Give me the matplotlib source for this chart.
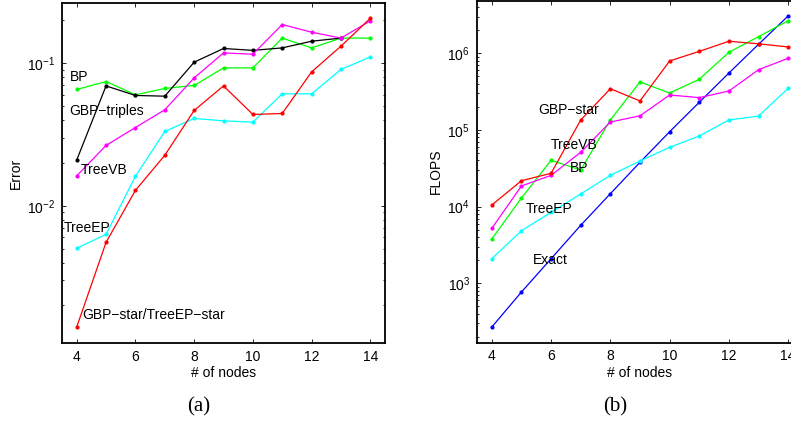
import matplotlib
matplotlib.use("Agg")
import matplotlib.pyplot as plt
from matplotlib.ticker import LogLocator, NullFormatter

plt.rcParams['font.family'] = ['Liberation Sans', 'DejaVu Sans']
plt.rcParams['mathtext.fontset'] = 'custom'
plt.rcParams['mathtext.rm'] = 'Liberation Sans'
plt.rcParams['mathtext.it'] = 'Liberation Sans'

nodes = [4, 5, 6, 7, 8, 9, 10, 11, 12, 13, 14]
nodes_triples = [4, 5, 6, 7, 8, 9, 10, 11, 12, 13]

# (a) Error
err_bp = [0.0654, 0.0744, 0.060, 0.0665, 0.0698, 0.0927, 0.0927, 0.150, 0.128, 0.150, 0.150]
err_gbp_triples = [0.0209, 0.0693, 0.0594, 0.0587, 0.1016, 0.1268, 0.123, 0.128, 0.1426, 0.150]
err_treevb = [0.0162, 0.0265, 0.0354, 0.0471, 0.0789, 0.118, 0.1156, 0.1867, 0.165, 0.150, 0.198]
err_treeep = [0.00503, 0.00631, 0.0161, 0.0332, 0.0410, 0.0394, 0.0386, 0.0610, 0.0610, 0.0904, 0.1107]
err_gbp_star = [0.00141, 0.00554, 0.01282, 0.0226, 0.0466, 0.0693, 0.0437, 0.0444, 0.0869, 0.1316, 0.2066]

# (b) FLOPS
fl_exact = [269, 770, 2094, 5710, 14750, 37850, 94900, 229600, 553000, 1.31e6, 3.07e6]
fl_treeep = [2094, 4850, 8440, 14620, 25600, 39400, 59400, 83400, 135000, 152000, 349000]
fl_bp = [3790, 12970, 40200, 30060, 135000, 423000, 303000, 458000, 1.03e6, 1.65e6, 2.66e6]
fl_treevb = [5210, 18600, 25600, 51200, 127000, 153000, 286000, 264000, 322000, 611000, 861000]
fl_gbp_star = [10500, 21800, 27200, 135000, 345000, 239000, 794000, 1.06e6, 1.435e6, 1.33e6, 1.21e6]

xticks = [4, 6, 8, 10, 12, 14]

W, H = 791, 423
fig = plt.figure(figsize=(W / 100, H / 100), dpi=100)

ax1 = fig.add_axes([62 / W, 1 - 342.7 / H, (385 - 62) / W, (342.7 - 3.3) / H])
ax2 = fig.add_axes([477 / W, 1 - 342.5 / H, (803 - 477) / W, (342.5 - 1) / H])

lw = 0.9
ms = 4
ax1.plot(nodes, err_bp, '.-', color=(0, 1, 0), lw=lw, ms=ms)
ax1.plot(nodes_triples, err_gbp_triples, '.-', color='k', lw=lw, ms=ms)
ax1.plot(nodes, err_treevb, '.-', color=(1, 0, 1), lw=lw, ms=ms)
ax1.plot(nodes, err_treeep, '.-', color=(0, 1, 1), lw=lw, ms=ms)
ax1.plot(nodes, err_gbp_star, '.-', color=(1, 0, 0), lw=lw, ms=ms)

ax2.plot(nodes, fl_exact, '.-', color=(0, 0, 1), lw=lw, ms=ms)
ax2.plot(nodes, fl_treeep, '.-', color=(0, 1, 1), lw=lw, ms=ms)
ax2.plot(nodes, fl_bp, '.-', color=(0, 1, 0), lw=lw, ms=ms)
ax2.plot(nodes, fl_treevb, '.-', color=(1, 0, 1), lw=lw, ms=ms)
ax2.plot(nodes, fl_gbp_star, '.-', color=(1, 0, 0), lw=lw, ms=ms)

fs = 10
ax1.text(3.77, 0.0798, 'BP', fontsize=fs, va='center')
ax1.text(3.74, 0.0461, 'GBP\u2212triples', fontsize=fs, va='center')
ax1.text(4.14, 0.0178, 'TreeVB', fontsize=fs, va='center')
ax1.text(3.57, 0.00701, 'TreeEP', fontsize=fs, va='center')
ax1.text(4.18, 0.00171, 'GBP\u2212star/TreeEP\u2212star', fontsize=fs, va='center')

ax2.text(5.55, 1.82e5, 'GBP\u2212star', fontsize=fs, va='center')
ax2.text(6.0, 6.37e4, 'TreeVB', fontsize=fs, va='center')
ax2.text(6.64, 3.16e4, 'BP', fontsize=fs, va='center')
ax2.text(5.16, 9300, 'TreeEP', fontsize=fs, va='center')
ax2.text(5.37, 2015, 'Exact', fontsize=fs, va='center')

ax1.set_ylim(10 ** (-2.96), 10 ** (-0.58))
ax2.set_ylim(169, 4.81e6)

for ax in (ax1, ax2):
    ax.set_yscale('log')
    ax.set_xlim(3.5, 14.5)
    ax.set_xticks(xticks)
    ax.yaxis.set_major_locator(LogLocator(base=10, numticks=10))
    ax.yaxis.set_minor_locator(LogLocator(base=10, subs=range(2, 10), numticks=100))
    ax.yaxis.set_minor_formatter(NullFormatter())
    ax.tick_params(which='both', direction='in', top=True, right=True, labelsize=fs, pad=5)
    ax.tick_params(which='major', length=3, width=0.6)
    ax.tick_params(which='minor', length=1.6, width=0.6)
    for s in ax.spines.values():
        s.set_linewidth(1.3)
    ax.set_xlabel('# of nodes', fontsize=fs, labelpad=2)

ax1.set_ylabel('Error', fontsize=fs, labelpad=3)
ax2.set_ylabel('FLOPS', fontsize=fs, labelpad=3)

fig.text(199 / W, 1 - 407 / H, '(a)', fontsize=15, family='Liberation Serif', ha='center', va='center')
fig.text(615 / W, 1 - 407 / H, '(b)', fontsize=15, family='Liberation Serif', ha='center', va='center')

fig.savefig('out.png', dpi=100)
